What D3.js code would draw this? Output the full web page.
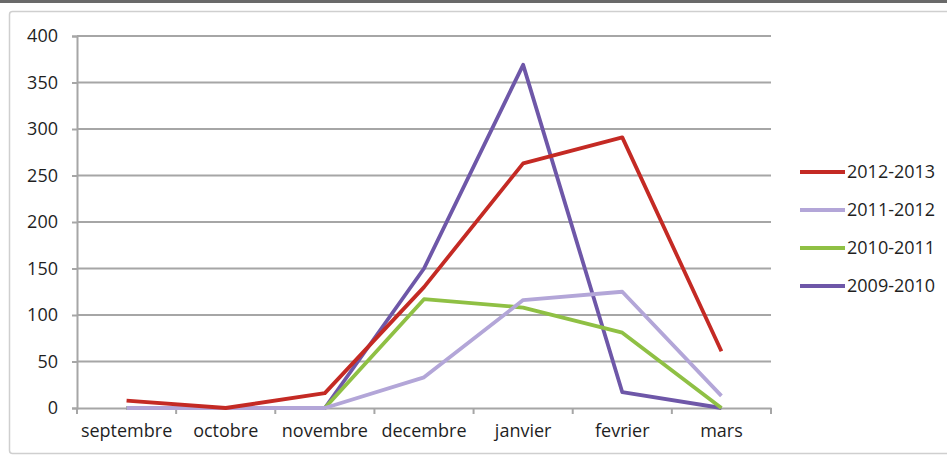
<!DOCTYPE html>
<html>
<head>
<meta charset="utf-8">
<script src="https://cdn.jsdelivr.net/npm/d3@7"></script>
<style>
  body { margin: 0; background: #fff; }
  svg { display: block; }
  text { font-family: "Open Sans", sans-serif; fill: #1f1f1f; }
</style>
</head>
<body>
<svg id="chart" width="947" height="457"></svg>
<script>
const months = ["septembre", "octobre", "novembre", "decembre", "janvier", "fevrier", "mars"];
const yTicks = [0, 50, 100, 150, 200, 250, 300, 350, 400];

// one array per season
const s2012 = [8, 0, 16, 130, 263, 291, 61];
const s2011 = [0, 0, 0, 33, 116, 125, 13];
const s2010 = [0, 0, 0, 117, 108, 81, 0];
const s2009 = [0, 0, 0, 150, 369, 17, 0];

const seriesNames = ["2012-2013", "2011-2012", "2010-2011", "2009-2010"];
const seriesColors = ["#c42a24", "#b3a6d8", "#8fc044", "#6e57a8"];

const series = [s2012, s2011, s2010, s2009].map((values, i) => ({
  name: seriesNames[i], color: seriesColors[i], values
}));

const svg = d3.select("#chart");

// outer frame like the screenshot
svg.append("rect").attr("x", 0).attr("y", 0).attr("width", 947).attr("height", 3).attr("fill", "#6a6a6a");
svg.append("rect")
    .attr("x", 9.5).attr("y", 11.5).attr("width", 960).attr("height", 442).attr("rx", 3)
    .attr("fill", "#fff").attr("stroke", "#cfcfcf").attr("stroke-width", 1.5);

const x = d3.scaleBand().domain(months).range([77, 771]);
const y = d3.scaleLinear().domain([0, 400]).range([408, 36]);

// gridlines
svg.append("g")
    .selectAll("line")
    .data(yTicks.filter(d => d > 0))
    .join("line")
    .attr("x1", 77).attr("x2", 771)
    .attr("y1", d => y(d)).attr("y2", d => y(d))
    .attr("stroke", "#a6a6a6").attr("stroke-width", 2);

// y axis
const yAxis = svg.append("g")
    .attr("transform", "translate(77,0)")
    .call(d3.axisLeft(y).tickValues(yTicks).tickSize(5).tickPadding(14));
yAxis.select(".domain").attr("stroke", "#a6a6a6").attr("stroke-width", 2);
yAxis.selectAll(".tick line").attr("stroke", "#a6a6a6").attr("stroke-width", 2);
yAxis.selectAll("text").attr("font-size", 18).attr("fill", "#1f1f1f");

// x axis
const xAxis = svg.append("g")
    .attr("transform", "translate(0,408)")
    .call(d3.axisBottom(x).tickSize(0).tickPadding(16));
xAxis.select(".domain").attr("stroke", "#a6a6a6").attr("stroke-width", 2);
xAxis.selectAll("text").attr("font-size", 18).attr("fill", "#1f1f1f");

// tick marks on category boundaries
svg.append("g")
    .selectAll("line")
    .data(d3.range(months.length + 1))
    .join("line")
    .attr("x1", i => 77 + i * x.step()).attr("x2", i => 77 + i * x.step())
    .attr("y1", 408).attr("y2", 414)
    .attr("stroke", "#a6a6a6").attr("stroke-width", 2);

const line = d3.line()
    .x((d, i) => x(months[i]) + x.bandwidth() / 2)
    .y(d => y(d));

// draw oldest first so 2012-2013 sits on top
svg.append("g")
    .selectAll("path")
    .data(series.slice().reverse())
    .join("path")
    .attr("d", d => line(d.values))
    .attr("fill", "none")
    .attr("stroke", d => d.color)
    .attr("stroke-width", 3.8)
    .attr("stroke-linejoin", "round");

// legend
const legend = svg.append("g")
    .selectAll("g")
    .data(series)
    .join("g")
    .attr("transform", (d, i) => `translate(800,${172 + i * 38})`);
legend.append("line")
    .attr("x1", 0).attr("x2", 45)
    .attr("stroke", d => d.color).attr("stroke-width", 3.8);
legend.append("text")
    .attr("x", 47).attr("dy", "0.35em")
    .attr("font-size", 18)
    .text(d => d.name);
</script>
</body>
</html>
